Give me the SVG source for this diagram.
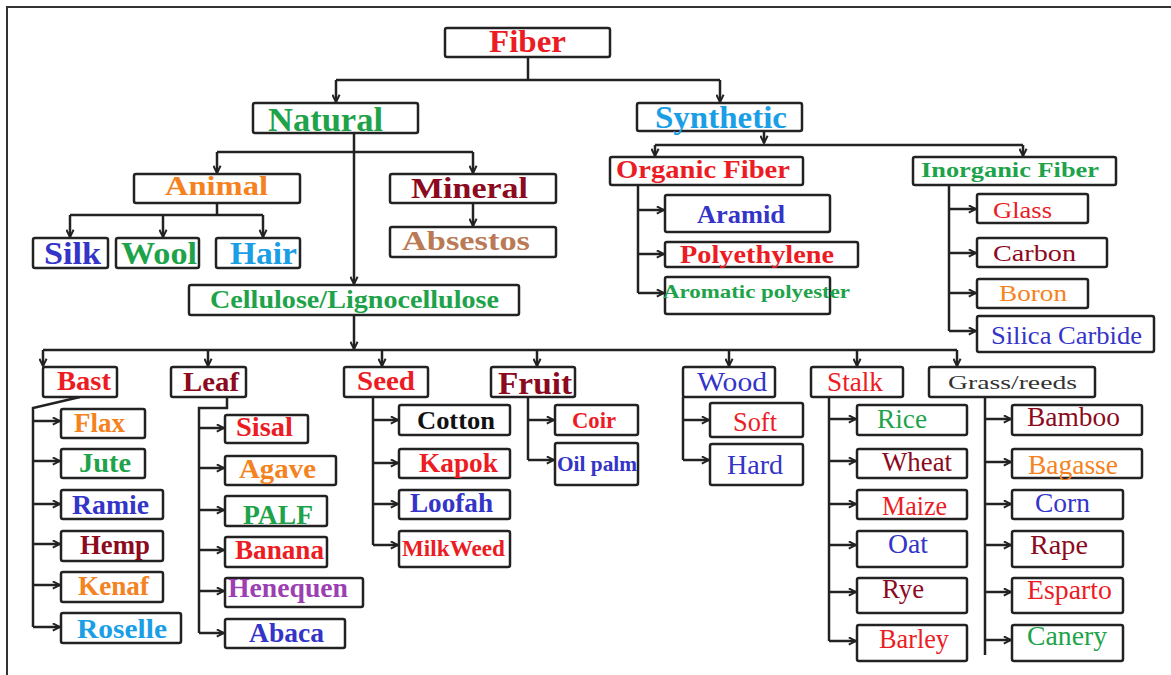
<svg xmlns="http://www.w3.org/2000/svg" width="1171" height="675" viewBox="0 0 1171 675">
<style>
rect{fill:#fff;stroke:#222;stroke-width:2.5}
text{font-family:"Liberation Serif","Times New Roman",serif;font-weight:bold}
.r{font-weight:normal}
.red{fill:#ec1c24}.grn{fill:#1ea34a}.org{fill:#f58220}.blu{fill:#3434c8}.lb{fill:#1a9ee6}
.dr{fill:#8b0a1e}.pur{fill:#9b3fb3}.tan{fill:#b97a55}.blk{fill:#111}.gry{fill:#333}
.c path{fill:none;stroke:#222;stroke-width:2.5}
.c .a{marker-end:url(#ah)}
</style>
<defs>
<marker id="ah" viewBox="0 0 10 10" refX="9" refY="5" markerWidth="9" markerHeight="9" markerUnits="userSpaceOnUse" orient="auto">
<path d="M1,1 L9,5 L1,9" fill="none" stroke="#222" stroke-width="2.2"/>
</marker>
</defs>
<path d="M7,675 V7 H1171" fill="none" stroke="#333" stroke-width="2"/>

<g class="c" id="connectors">
<path d="M528,57 V80 M336,80 H720"/>
<path class="a" d="M336,80 V102"/><path class="a" d="M720,80 V102"/>
<path class="a" d="M354,133 V284"/>
<path d="M217,152 H473"/>
<path class="a" d="M217,152 V173"/><path class="a" d="M473,152 V173"/>
<path d="M217,203 V215 M70,215 H263"/>
<path class="a" d="M70,215 V237"/><path class="a" d="M163,215 V237"/><path class="a" d="M263,215 V237"/>
<path class="a" d="M473,203 V226"/>
<path class="a" d="M354,315 V349"/>
<path d="M43,350 H957"/>
<path class="a" d="M43,350 V366"/><path class="a" d="M208,350 V366"/><path class="a" d="M382,350 V366"/><path class="a" d="M537,350 V366"/><path class="a" d="M729,350 V366"/><path class="a" d="M857,350 V366"/><path class="a" d="M957,350 V366"/>
<path class="a" d="M764,130 V143"/>
<path d="M655,145 H1023"/>
<path class="a" d="M655,145 V156"/><path class="a" d="M1023,145 V156"/>
<path d="M638,186 V293"/>
<path class="a" d="M638,210 H664"/><path class="a" d="M638,254 H664"/><path class="a" d="M638,293 H664"/>
<path d="M949,186 V331"/>
<path class="a" d="M949,209 H976"/><path class="a" d="M949,253 H976"/><path class="a" d="M949,293 H976"/><path class="a" d="M949,331 H976"/>
<path d="M80,397 L33,408 V627"/>
<path class="a" d="M33,421 H60"/><path class="a" d="M33,461 H60"/><path class="a" d="M33,504 H60"/><path class="a" d="M33,544 H60"/><path class="a" d="M33,585 H60"/><path class="a" d="M33,627 H60"/>
<path d="M227,397 V408 H199 V633"/>
<path class="a" d="M199,428 H224"/><path class="a" d="M199,468 H224"/><path class="a" d="M199,510 H224"/><path class="a" d="M199,550 H224"/><path class="a" d="M199,591 H224"/><path class="a" d="M199,633 H224"/>
<path d="M373,397 V545"/>
<path class="a" d="M373,420 H398"/><path class="a" d="M373,463 H398"/><path class="a" d="M373,504 H398"/><path class="a" d="M373,545 H398"/>
<path d="M528,397 V460"/>
<path class="a" d="M528,420 H554"/><path class="a" d="M528,460 H554"/>
<path d="M683,397 V460"/>
<path class="a" d="M683,420 H709"/><path class="a" d="M683,460 H709"/>
<path d="M829,397 V641"/>
<path class="a" d="M829,419 H856"/><path class="a" d="M829,461 H856"/><path class="a" d="M829,504 H856"/><path class="a" d="M829,545 H856"/><path class="a" d="M829,592 H856"/><path class="a" d="M829,641 H856"/>
<path d="M985,397 V655"/>
<path class="a" d="M985,419 H1011"/><path class="a" d="M985,462 H1011"/><path class="a" d="M985,504 H1011"/><path class="a" d="M985,545 H1011"/><path class="a" d="M985,592 H1011"/><path class="a" d="M985,640 H1011"/>
</g>

<g id="fiber"><rect x="445" y="28" width="165" height="29" rx="2"/><text class="red" x="489" y="52" font-size="31" textLength="77" lengthAdjust="spacingAndGlyphs">Fiber</text></g>
<g id="natural"><rect x="253" y="103" width="165" height="30" rx="2"/><text class="grn" x="268" y="131" font-size="33" textLength="115" lengthAdjust="spacingAndGlyphs">Natural</text></g>
<g id="synthetic"><rect x="637" y="103" width="165" height="28" rx="2"/><text class="lb" x="655" y="128" font-size="31" textLength="132" lengthAdjust="spacingAndGlyphs">Synthetic</text></g>
<g id="animal"><rect x="134" y="174" width="166" height="29" rx="2"/><text class="org" x="165" y="195" font-size="27" textLength="103" lengthAdjust="spacingAndGlyphs">Animal</text></g>
<g id="mineral"><rect x="390" y="174" width="166" height="29" rx="2"/><text class="dr" x="411" y="198" font-size="30" textLength="117" lengthAdjust="spacingAndGlyphs">Mineral</text></g>
<g id="absestos"><rect x="390" y="227" width="166" height="30" rx="2"/><text class="tan" x="402" y="250" font-size="28" textLength="128" lengthAdjust="spacingAndGlyphs">Absestos</text></g>
<g id="silk"><rect x="33" y="238" width="75" height="30" rx="2"/><text class="blu" x="44" y="264" font-size="31" textLength="57" lengthAdjust="spacingAndGlyphs">Silk</text></g>
<g id="wool"><rect x="116" y="238" width="83" height="30" rx="2"/><text class="grn" x="121" y="264" font-size="31" textLength="76" lengthAdjust="spacingAndGlyphs">Wool</text></g>
<g id="hair"><rect x="216" y="238" width="84" height="30" rx="2"/><text class="lb" x="230" y="264" font-size="31" textLength="67" lengthAdjust="spacingAndGlyphs">Hair</text></g>
<g id="cellulose"><rect x="189" y="285" width="330" height="30" rx="2"/><text class="grn" x="210" y="308" font-size="26" textLength="289" lengthAdjust="spacingAndGlyphs">Cellulose/Lignocellulose</text></g>

<g id="organic"><rect x="610" y="157" width="193" height="28" rx="2"/><text class="red" x="616" y="178" font-size="25" textLength="174" lengthAdjust="spacingAndGlyphs">Organic Fiber</text></g>
<g id="inorganic"><rect x="913" y="157" width="203" height="28" rx="2"/><text class="grn" x="921" y="177" font-size="21" textLength="178" lengthAdjust="spacingAndGlyphs">Inorganic Fiber</text></g>
<g id="aramid"><rect x="665" y="195" width="165" height="37" rx="2"/><text class="blu" x="697" y="223" font-size="26" textLength="88" lengthAdjust="spacingAndGlyphs">Aramid</text></g>
<g id="polyethylene"><rect x="665" y="242" width="193" height="25" rx="2"/><text class="red" x="680" y="263" font-size="26" textLength="154" lengthAdjust="spacingAndGlyphs">Polyethylene</text></g>
<g id="aromatic"><rect x="665" y="277" width="165" height="37" rx="2"/><text class="grn" x="663" y="298" font-size="19" textLength="187" lengthAdjust="spacingAndGlyphs">Aromatic polyester</text></g>
<g id="glass"><rect x="977" y="194" width="111" height="29" rx="2"/><text class="red r" x="993" y="218" font-size="23" textLength="59" lengthAdjust="spacingAndGlyphs">Glass</text></g>
<g id="carbon"><rect x="977" y="238" width="130" height="29" rx="2"/><text class="dr r" x="993" y="261" font-size="23" textLength="83" lengthAdjust="spacingAndGlyphs">Carbon</text></g>
<g id="boron"><rect x="977" y="279" width="111" height="29" rx="2"/><text class="org r" x="999" y="301" font-size="23" textLength="68" lengthAdjust="spacingAndGlyphs">Boron</text></g>
<g id="silica"><rect x="977" y="316" width="177" height="36" rx="2"/><text class="blu r" x="991" y="344" font-size="26" textLength="151" lengthAdjust="spacingAndGlyphs">Silica Carbide</text></g>

<g id="bast"><rect x="43" y="367" width="74" height="30" rx="2"/><text class="red" x="57" y="390" font-size="27" textLength="54" lengthAdjust="spacingAndGlyphs">Bast</text></g>
<g id="flax"><rect x="61" y="409" width="84" height="29" rx="2"/><text class="org" x="74" y="432" font-size="27" textLength="51" lengthAdjust="spacingAndGlyphs">Flax</text></g>
<g id="jute"><rect x="61" y="449" width="84" height="29" rx="2"/><text class="grn" x="79" y="472" font-size="27" textLength="52" lengthAdjust="spacingAndGlyphs">Jute</text></g>
<g id="ramie"><rect x="61" y="490" width="102" height="29" rx="2"/><text class="blu" x="72" y="514" font-size="27" textLength="77" lengthAdjust="spacingAndGlyphs">Ramie</text></g>
<g id="hemp"><rect x="61" y="531" width="102" height="30" rx="2"/><text class="dr" x="80" y="554" font-size="27" textLength="70" lengthAdjust="spacingAndGlyphs">Hemp</text></g>
<g id="kenaf"><rect x="61" y="572" width="102" height="30" rx="2"/><text class="org" x="78" y="595" font-size="27" textLength="71" lengthAdjust="spacingAndGlyphs">Kenaf</text></g>
<g id="roselle"><rect x="61" y="613" width="120" height="30" rx="2"/><text class="lb" x="77" y="638" font-size="27" textLength="90" lengthAdjust="spacingAndGlyphs">Roselle</text></g>

<g id="leaf"><rect x="171" y="367" width="75" height="30" rx="2"/><text class="dr" x="183" y="391" font-size="28" textLength="56" lengthAdjust="spacingAndGlyphs">Leaf</text></g>
<g id="sisal"><rect x="225" y="415" width="83" height="28" rx="2"/><text class="red" x="236" y="436" font-size="27" textLength="57" lengthAdjust="spacingAndGlyphs">Sisal</text></g>
<g id="agave"><rect x="225" y="456" width="111" height="29" rx="2"/><text class="org" x="239" y="478" font-size="27" textLength="77" lengthAdjust="spacingAndGlyphs">Agave</text></g>
<g id="palf"><rect x="225" y="496" width="102" height="30" rx="2"/><text class="grn" x="243" y="524" font-size="27" textLength="70" lengthAdjust="spacingAndGlyphs">PALF</text></g>
<g id="banana"><rect x="225" y="537" width="102" height="30" rx="2"/><text class="red" x="235" y="559" font-size="27" textLength="89" lengthAdjust="spacingAndGlyphs">Banana</text></g>
<g id="henequen"><rect x="225" y="578" width="138" height="29" rx="2"/><text class="pur" x="228" y="597" font-size="27" textLength="120" lengthAdjust="spacingAndGlyphs">Henequen</text></g>
<g id="abaca"><rect x="225" y="619" width="120" height="29" rx="2"/><text class="blu" x="249" y="642" font-size="27" textLength="75" lengthAdjust="spacingAndGlyphs">Abaca</text></g>

<g id="seed"><rect x="344" y="367" width="84" height="30" rx="2"/><text class="red" x="357" y="390" font-size="28" textLength="58" lengthAdjust="spacingAndGlyphs">Seed</text></g>
<g id="cotton"><rect x="399" y="405" width="111" height="30" rx="2"/><text class="blk" x="417" y="429" font-size="26" textLength="78" lengthAdjust="spacingAndGlyphs">Cotton</text></g>
<g id="kapok"><rect x="399" y="449" width="111" height="29" rx="2"/><text class="red" x="419" y="472" font-size="27" textLength="79" lengthAdjust="spacingAndGlyphs">Kapok</text></g>
<g id="loofah"><rect x="399" y="490" width="111" height="29" rx="2"/><text class="blu" x="410" y="512" font-size="27" textLength="83" lengthAdjust="spacingAndGlyphs">Loofah</text></g>
<g id="milkweed"><rect x="399" y="531" width="111" height="36" rx="2"/><text class="red" x="402" y="556" font-size="23" textLength="103" lengthAdjust="spacingAndGlyphs">MilkWeed</text></g>

<g id="fruit"><rect x="491" y="367" width="84" height="30" rx="2"/><text class="dr" x="498" y="394" font-size="32" textLength="74" lengthAdjust="spacingAndGlyphs">Fruit</text></g>
<g id="coir"><rect x="555" y="405" width="83" height="30" rx="2"/><text class="red" x="572" y="428" font-size="23" textLength="44" lengthAdjust="spacingAndGlyphs">Coir</text></g>
<g id="oilpalm"><rect x="555" y="443" width="83" height="42" rx="2"/><text class="blu" x="557" y="471" font-size="21" textLength="80" lengthAdjust="spacingAndGlyphs">Oil palm</text></g>

<g id="wood"><rect x="683" y="367" width="92" height="30" rx="2"/><text class="blu r" x="697" y="391" font-size="27" textLength="70" lengthAdjust="spacingAndGlyphs">Wood</text></g>
<g id="soft"><rect x="710" y="403" width="93" height="34" rx="2"/><text class="red r" x="733" y="431" font-size="27" textLength="44" lengthAdjust="spacingAndGlyphs">Soft</text></g>
<g id="hard"><rect x="710" y="444" width="93" height="41" rx="2"/><text class="blu r" x="727" y="474" font-size="27" textLength="56" lengthAdjust="spacingAndGlyphs">Hard</text></g>

<g id="stalk"><rect x="811" y="367" width="92" height="30" rx="2"/><text class="red r" x="827" y="391" font-size="27" textLength="56" lengthAdjust="spacingAndGlyphs">Stalk</text></g>
<g id="rice"><rect x="857" y="405" width="110" height="30" rx="2"/><text class="grn r" x="877" y="428" font-size="27" textLength="50" lengthAdjust="spacingAndGlyphs">Rice</text></g>
<g id="wheat"><rect x="857" y="449" width="110" height="29" rx="2"/><text class="dr r" x="882" y="471" font-size="27" textLength="70" lengthAdjust="spacingAndGlyphs">Wheat</text></g>
<g id="maize"><rect x="857" y="490" width="110" height="29" rx="2"/><text class="red r" x="882" y="515" font-size="27" textLength="65" lengthAdjust="spacingAndGlyphs">Maize</text></g>
<g id="oat"><rect x="857" y="531" width="110" height="36" rx="2"/><text class="blu r" x="888" y="553" font-size="27" textLength="40" lengthAdjust="spacingAndGlyphs">Oat</text></g>
<g id="rye"><rect x="857" y="578" width="110" height="35" rx="2"/><text class="dr r" x="882" y="598" font-size="27" textLength="42" lengthAdjust="spacingAndGlyphs">Rye</text></g>
<g id="barley"><rect x="857" y="625" width="110" height="36" rx="2"/><text class="red r" x="879" y="648" font-size="27" textLength="70" lengthAdjust="spacingAndGlyphs">Barley</text></g>

<g id="grass"><rect x="929" y="367" width="166" height="30" rx="2"/><text class="gry r" x="948" y="389" font-size="19" textLength="129" lengthAdjust="spacingAndGlyphs">Grass/reeds</text></g>
<g id="bamboo"><rect x="1012" y="405" width="130" height="30" rx="2"/><text class="dr r" x="1027" y="426" font-size="27" textLength="93" lengthAdjust="spacingAndGlyphs">Bamboo</text></g>
<g id="bagasse"><rect x="1012" y="449" width="130" height="29" rx="2"/><text class="org r" x="1028" y="474" font-size="27" textLength="90" lengthAdjust="spacingAndGlyphs">Bagasse</text></g>
<g id="corn"><rect x="1012" y="490" width="111" height="29" rx="2"/><text class="blu r" x="1035" y="512" font-size="27" textLength="55" lengthAdjust="spacingAndGlyphs">Corn</text></g>
<g id="rape"><rect x="1012" y="531" width="111" height="36" rx="2"/><text class="dr r" x="1030" y="554" font-size="27" textLength="58" lengthAdjust="spacingAndGlyphs">Rape</text></g>
<g id="esparto"><rect x="1012" y="578" width="111" height="35" rx="2"/><text class="red r" x="1027" y="599" font-size="27" textLength="85" lengthAdjust="spacingAndGlyphs">Esparto</text></g>
<g id="canery"><rect x="1012" y="625" width="111" height="36" rx="2"/><text class="grn r" x="1027" y="645" font-size="27" textLength="80" lengthAdjust="spacingAndGlyphs">Canery</text></g>
</svg>
